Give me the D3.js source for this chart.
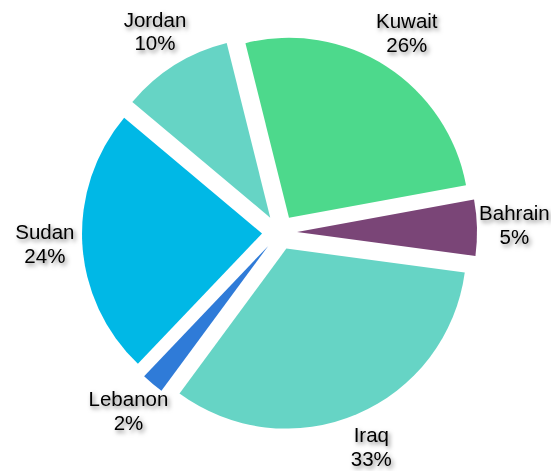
<!DOCTYPE html>
<html>
<head>
<meta charset="utf-8">
<script src="https://cdn.jsdelivr.net/npm/d3@7"></script>
<style>
  html, body { margin: 0; padding: 0; background: #fff; }
  svg { display: block; }
  .lbl { font-family: "Liberation Sans", Arial, sans-serif; font-size: 20.5px; fill: #000; }
</style>
</head>
<body>
<div id="chart"></div>
<script>
const width = 551, height = 471,
    cx = 279.5, cy = 232.5,
    radius = 180,
    explode = 17.5,
    labelRadius = 235;

// data
const countries = ["Kuwait", "Bahrain", "Iraq", "Lebanon", "Sudan", "Jordan"];
const shares = [26, 5, 33, 2, 24, 10];
const sliceColors = ["#4dd98c", "#7a4577", "#66d4c5", "#2f7bd8", "#00b8e6", "#66d4c5"];

const rows = countries.map((c, i) => ({name: c, value: shares[i], color: sliceColors[i]}));

const svg = d3.select("#chart")
  .append("svg")
    .attr("width", width)
    .attr("height", height);

// soft shadow under the labels
const defs = svg.append("defs");
defs.append("filter")
    .attr("id", "shadow")
    .attr("x", "-20%").attr("y", "-40%")
    .attr("width", "150%").attr("height", "200%")
  .append("feDropShadow")
    .attr("dx", 2).attr("dy", 2.5)
    .attr("stdDeviation", 2)
    .attr("flood-color", "#000")
    .attr("flood-opacity", 0.5);

const start = -14 * Math.PI / 180;
const pie = d3.pie()
  .sort(null)
  .value(d => d.value)
  .startAngle(start)
  .endAngle(start + 2 * Math.PI);

const arc = d3.arc().innerRadius(0).outerRadius(radius);

const arcs = pie(rows);
const mid = d => (d.startAngle + d.endAngle) / 2;

const g = svg.append("g")
    .attr("transform", `translate(${cx},${cy})`);

//--------------------------- SLICES
g.selectAll("path")
  .data(arcs)
  .join("path")
    .attr("d", arc)
    .attr("fill", d => d.data.color)
    .attr("transform", d => `translate(${explode * Math.sin(mid(d))},${-explode * Math.cos(mid(d))})`);

//--------------------------- LABELS
const labels = g.selectAll("text")
  .data(arcs)
  .join("text")
    .attr("class", "lbl")
    .attr("text-anchor", "middle")
    .attr("filter", "url(#shadow)")
    .attr("transform", d => `translate(${labelRadius * Math.sin(mid(d))},${-labelRadius * Math.cos(mid(d))})`);

labels.append("tspan")
    .attr("x", 0)
    .attr("y", -6.5)
    .text(d => d.data.name);

labels.append("tspan")
    .attr("x", 0)
    .attr("y", 17)
    .text(d => d.data.value + "%");
</script>
</body>
</html>
